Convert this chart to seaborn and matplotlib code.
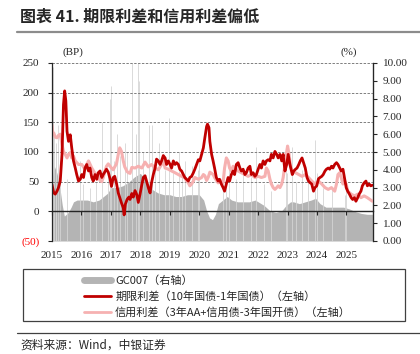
import numpy as np
import pandas as pd
import matplotlib
matplotlib.use("Agg")
import matplotlib.pyplot as plt
import matplotlib.ticker as mticker
from matplotlib.lines import Line2D
from matplotlib.patches import Rectangle
import seaborn as sns

sns.set_style("ticks")
plt.rcParams['font.family'] = ['Liberation Serif', 'Noto Sans CJK SC', 'DejaVu Sans']
plt.rcParams['axes.unicode_minus'] = False

# term spread: 10Y CGB - 1Y CGB (bp)
term_t = [2015.00, 2015.06, 2015.11, 2015.17, 2015.22, 2015.28, 2015.34, 2015.39, 2015.43, 2015.47,
          2015.51, 2015.56, 2015.62, 2015.67, 2015.73, 2015.79, 2015.84, 2015.90, 2015.96, 2016.01,
          2016.07, 2016.12, 2016.18, 2016.24, 2016.29, 2016.35, 2016.40, 2016.46, 2016.52, 2016.57,
          2016.63, 2016.69, 2016.74, 2016.80, 2016.85, 2016.91, 2016.97, 2017.02, 2017.08, 2017.13,
          2017.19, 2017.25, 2017.30, 2017.36, 2017.42, 2017.45, 2017.49, 2017.55, 2017.61, 2017.65,
          2017.71, 2017.76, 2017.82, 2017.88, 2017.93, 2017.99, 2018.05, 2018.10, 2018.16, 2018.21,
          2018.27, 2018.33, 2018.38, 2018.44, 2018.50, 2018.55, 2018.61, 2018.67, 2018.72, 2018.78,
          2018.84, 2018.89, 2018.95, 2019.01, 2019.06, 2019.12, 2019.18, 2019.23, 2019.29, 2019.34,
          2019.40, 2019.46, 2019.51, 2019.57, 2019.63, 2019.68, 2019.74, 2019.80, 2019.85, 2019.91,
          2019.97, 2020.02, 2020.08, 2020.14, 2020.19, 2020.25, 2020.28, 2020.33, 2020.36, 2020.42,
          2020.47, 2020.52, 2020.58, 2020.64, 2020.69, 2020.75, 2020.81, 2020.86, 2020.92, 2020.98,
          2021.03, 2021.09, 2021.15, 2021.20, 2021.26, 2021.32, 2021.38, 2021.43, 2021.49, 2021.55,
          2021.60, 2021.66, 2021.72, 2021.77, 2021.83, 2021.89, 2021.94, 2022.00, 2022.06, 2022.11,
          2022.17, 2022.23, 2022.28, 2022.34, 2022.40, 2022.45, 2022.51, 2022.57, 2022.63, 2022.68,
          2022.74, 2022.80, 2022.85, 2022.91, 2022.97, 2023.02, 2023.08, 2023.16, 2023.21, 2023.27,
          2023.32, 2023.38, 2023.43, 2023.49, 2023.54, 2023.60, 2023.66, 2023.71, 2023.77, 2023.82,
          2023.88, 2023.93, 2023.99, 2024.05, 2024.10, 2024.16, 2024.21, 2024.27, 2024.32, 2024.38,
          2024.43, 2024.49, 2024.54, 2024.60, 2024.66, 2024.71, 2024.77, 2024.82, 2024.88, 2024.93,
          2024.99, 2025.04, 2025.10, 2025.16, 2025.21, 2025.27, 2025.32, 2025.38, 2025.43, 2025.49,
          2025.54, 2025.60, 2025.66, 2025.71, 2025.77, 2025.82, 2025.88]
term_v = [45, 31, 29, 34, 40, 51, 96, 180, 203, 186,
          135, 118, 129, 107, 85, 73, 62, 51, 54, 62,
          57, 73, 79, 68, 73, 57, 51, 62, 54, 65,
          68, 57, 62, 67, 71, 66, 55, 42, 57, 59,
          47, 31, 23, 14, 6, -6, 12, 20, 24, 20,
          30, 24, 35, 28, 15, 29, 45, 57, 60, 51,
          40, 31, 48, 62, 73, 88, 85, 79, 85, 94,
          90, 79, 85, 79, 73, 85, 79, 82, 79, 71,
          68, 62, 57, 54, 51, 57, 59, 65, 71, 79,
          87, 85, 96, 107, 124, 143, 147, 141, 118, 96,
          85, 73, 57, 51, 54, 46, 40, 34, 46, 57,
          51, 62, 68, 62, 79, 82, 73, 68, 71, 62,
          65, 73, 76, 62, 65, 59, 62, 71, 79, 73,
          85, 79, 85, 87, 85, 96, 90, 101, 96, 90,
          96, 85, 96, 68, 79, 96, 79, 62, 68, 71,
          73, 79, 85, 90, 82, 73, 57, 51, 48, 46,
          34, 40, 43, 55, 57, 59, 62, 68, 71, 73,
          71, 76, 73, 79, 82, 79, 73, 68, 71, 57,
          40, 34, 29, 23, 20, 23, 17, 23, 29, 34,
          43, 48, 51, 43, 46, 43, 44]

# credit spread: 3Y AA+ credit - 3Y CDB (bp)
credit_t = [2015.00, 2015.03, 2015.06, 2015.11, 2015.17, 2015.22, 2015.28, 2015.34, 2015.39, 2015.45,
            2015.51, 2015.56, 2015.62, 2015.67, 2015.73, 2015.79, 2015.90, 2016.01, 2016.12, 2016.18,
            2016.24, 2016.35, 2016.46, 2016.57, 2016.63, 2016.69, 2016.74, 2016.80, 2016.85, 2016.91,
            2016.97, 2017.02, 2017.08, 2017.13, 2017.19, 2017.25, 2017.30, 2017.36, 2017.42, 2017.47,
            2017.55, 2017.60, 2017.65, 2017.71, 2017.82, 2017.93, 2018.05, 2018.16, 2018.27, 2018.38,
            2018.50, 2018.61, 2018.72, 2018.78, 2018.84, 2018.95, 2019.06, 2019.18, 2019.29, 2019.40,
            2019.51, 2019.57, 2019.63, 2019.68, 2019.74, 2019.80, 2019.85, 2019.97, 2020.08, 2020.14,
            2020.19, 2020.25, 2020.31, 2020.36, 2020.42, 2020.47, 2020.52, 2020.64, 2020.75, 2020.81,
            2020.86, 2020.92, 2020.98, 2021.03, 2021.09, 2021.15, 2021.20, 2021.32, 2021.43, 2021.55,
            2021.66, 2021.77, 2021.89, 2022.00, 2022.11, 2022.23, 2022.28, 2022.34, 2022.40, 2022.45,
            2022.51, 2022.57, 2022.63, 2022.68, 2022.74, 2022.80, 2022.85, 2022.91, 2022.97, 2023.00,
            2023.05, 2023.10, 2023.16, 2023.27, 2023.38, 2023.49, 2023.60, 2023.71, 2023.82, 2023.93,
            2024.05, 2024.16, 2024.27, 2024.38, 2024.49, 2024.60, 2024.66, 2024.71, 2024.77, 2024.82,
            2024.88, 2024.93, 2024.99, 2025.04, 2025.16, 2025.27, 2025.38, 2025.49, 2025.60, 2025.71,
            2025.88]
credit_v = [145, 130, 132, 125, 124, 128, 130, 113, 101, 96,
            90, 96, 99, 90, 93, 85, 79, 79, 71, 79,
            85, 73, 64, 60, 52, 50, 57, 68, 76, 80,
            76, 73, 70, 75, 80, 96, 107, 101, 85, 75,
            67, 65, 64, 74, 73, 76, 73, 83, 75, 79,
            73, 70, 79, 86, 73, 71, 68, 65, 62, 59,
            57, 51, 48, 43, 46, 51, 57, 54, 57, 62,
            60, 52, 58, 66, 64, 62, 57, 48, 51, 48,
            73, 90, 85, 73, 68, 76, 73, 68, 65, 62,
            59, 62, 57, 59, 57, 59, 73, 68, 54, 46,
            40, 37, 40, 43, 40, 46, 57, 79, 101, 110,
            96, 76, 68, 65, 62, 59, 62, 57, 51, 46,
            51, 46, 40, 37, 40, 34, 46, 62, 65, 57,
            46, 51, 46, 34, 29, 26, 29, 23, 26, 23,
            17]

# GC007 (%), dense body of the area
gc007_t = [2015.00, 2015.08, 2015.17, 2015.25, 2015.35, 2015.42, 2015.55, 2015.65, 2015.73, 2015.85,
           2016.00, 2016.20, 2016.40, 2016.60, 2016.75, 2016.90, 2017.00, 2017.20, 2017.40, 2017.60,
           2017.80, 2018.00, 2018.20, 2018.40, 2018.60, 2018.80, 2019.00, 2019.20, 2019.40, 2019.60,
           2019.80, 2020.00, 2020.15, 2020.25, 2020.35, 2020.45, 2020.55, 2020.65, 2020.80, 2020.95,
           2021.10, 2021.30, 2021.50, 2021.70, 2021.90, 2022.00, 2022.20, 2022.40, 2022.60, 2022.80,
           2022.95, 2023.10, 2023.20, 2023.40, 2023.60, 2023.80, 2023.95, 2024.10, 2024.30, 2024.50,
           2024.70, 2024.90, 2025.10, 2025.30, 2025.50, 2025.70, 2025.88]
gc007_v = [3.5, 4.2, 3.8, 3.2, 2.0, 1.4, 1.6, 1.9, 2.2, 2.3,
           2.3, 2.3, 2.2, 2.3, 2.5, 2.7, 3.0, 3.0, 3.1, 3.3,
           3.6, 3.8, 3.4, 2.9, 2.7, 2.6, 2.6, 2.5, 2.5, 2.6,
           2.6, 2.6, 2.3, 1.7, 1.3, 1.2, 1.5, 2.1, 2.3, 2.5,
           2.3, 2.2, 2.2, 2.2, 2.3, 2.2, 2.0, 1.7, 1.6, 1.7,
           2.0, 2.2, 2.2, 2.1, 2.2, 2.3, 2.4, 2.1, 1.9, 1.9,
           1.9, 1.9, 1.8, 1.65, 1.55, 1.5, 1.5]

# GC007 daily spikes (%)
spike_t = [2015.03, 2015.07, 2015.12, 2015.15, 2015.20, 2015.27, 2015.50, 2015.95, 2016.05, 2016.30,
           2016.50, 2016.71, 2016.90, 2016.98, 2017.02, 2017.10, 2017.21, 2017.30, 2017.47, 2017.55,
           2017.72, 2017.85, 2017.92, 2017.97, 2018.10, 2018.28, 2018.40, 2018.50, 2018.65, 2018.85,
           2018.96, 2019.10, 2019.30, 2019.40, 2019.50, 2019.75, 2019.95, 2020.00, 2020.80, 2020.90,
           2021.00, 2021.25, 2021.50, 2021.75, 2021.94, 2022.20, 2022.45, 2022.93, 2022.98, 2023.15,
           2023.30, 2023.50, 2023.70, 2023.93, 2024.00, 2024.20, 2024.50, 2024.95, 2025.00]
spike_v = [9.8, 6.0, 5.5, 5.0, 6.5, 4.5, 3.5, 4.5, 3.2, 3.0,
           3.3, 6.7, 3.8, 8.0, 8.7, 4.5, 6.0, 4.8, 5.5, 5.0,
           10.0, 6.0, 10.0, 9.0, 5.0, 6.5, 6.5, 4.5, 5.5, 4.0,
           6.9, 3.8, 5.0, 3.6, 4.5, 4.2, 4.0, 4.5, 3.8, 3.5,
           4.2, 3.5, 3.8, 3.6, 5.3, 3.2, 2.8, 5.4, 3.8, 5.3,
           3.3, 4.0, 3.5, 5.7, 3.8, 3.0, 3.0, 2.6, 2.8]

years = list(range(2015, 2026))
RED = '#C00000'
PINK = '#F6B1B1'
GRAY = '#B4B4B4'

fig = plt.figure(figsize=(4.2, 3.54), dpi=100)
ax = fig.add_axes([52 / 420, 1 - 241 / 354, 321 / 420, 178 / 354])
ax2 = ax.twinx()
ax.set_zorder(ax2.get_zorder() + 1)
ax.patch.set_visible(False)

# GC007 area on right axis
ax2.fill_between(gc007_t, 0, gc007_v, color=GRAY, lw=0)
ax2.vlines(spike_t, 0, spike_v, color='#D4D4D4', lw=0.6)
ax2.set_ylim(0, 10)
ax2.set_yticks(np.arange(0, 11, 1))
ax2.yaxis.set_major_formatter(mticker.FormatStrFormatter('%.2f'))
ax2.tick_params(axis='y', direction='out', length=3, pad=4, labelsize=8)

# spreads on left axis
sns.lineplot(x=credit_t, y=credit_v, ax=ax, color=PINK, lw=2.2, sort=False, estimator=None)
sns.lineplot(x=term_t, y=term_v, ax=ax, color=RED, lw=2.0, sort=False, estimator=None)

ymin, ymax = -50, 250
ax.set_ylim(ymin, ymax)
ax.set_xlim(2015, 2025.9)
ax.set_yticks(np.arange(-50, 251, 50))
ax.yaxis.set_major_formatter(mticker.FuncFormatter(
    lambda v, p: f"({-v:.0f})" if v < 0 else f"{v:.0f}"))
ax.tick_params(axis='y', direction='out', length=3, pad=6, labelsize=8)
ax.set_xticks(years)
ax.set_xticklabels([str(y) for y in years])
ax.tick_params(axis='x', length=0, pad=7, labelsize=8)
ax.set_xlabel('')
ax.set_ylabel('')
for lab in ax.get_yticklabels():
    if lab.get_text().startswith('('):
        lab.set_color('red')

for v in [-50, 50, 100, 150, 200, 250]:
    ax.axhline(v, color='#7F7F7F', lw=0.7, ls=(0, (2.5, 1.5)), zorder=0.5)

for sp in ['top', 'bottom']:
    ax.spines[sp].set_visible(False)
    ax2.spines[sp].set_visible(False)
ax.spines['left'].set_linewidth(0.9)
ax2.spines['right'].set_linewidth(0.9)
ax2.spines['left'].set_visible(False)

# zero line with year ticks
zero = ax.secondary_xaxis((0 - ymin) / (ymax - ymin))
zero.set_xticks(years)
zero.tick_params(axis='x', direction='out', length=3, labelbottom=False, labeltop=False)
for sp in zero.spines.values():
    sp.set_linewidth(1.0)

fig.text(73 / 420, 1 - 52 / 354, '(BP)', ha='center', va='center', fontsize=8)
fig.text(349 / 420, 1 - 52 / 354, '(%)', ha='center', va='center', fontsize=8)

# title and rules
fig.text(20 / 420, 1 - 17 / 354, '图表 41. 期限利差和信用利差偏低', ha='left', va='center',
         fontsize=11.5, fontweight='bold', family=['Noto Sans CJK SC', 'DejaVu Sans'])
fig.add_artist(Line2D([17 / 420, 1.0], [1 - 32 / 354, 1 - 32 / 354], color='#8C8C8C', lw=1.6))
fig.add_artist(Line2D([17 / 420, 1.0], [1 - 333 / 354, 1 - 333 / 354], color='#404040', lw=0.9))
fig.text(20 / 420, 1 - 345 / 354, '资料来源：Wind，中银证券', ha='left', va='center',
         fontsize=8.5, style='italic', family=['Noto Sans CJK SC', 'DejaVu Sans'])

# legend
fig.add_artist(Rectangle((23 / 420, 1 - 321 / 354), 382 / 420, 52 / 354, transform=fig.transFigure,
                         fill=False, edgecolor='#404040', lw=0.9))
handles = [Line2D([], [], color=GRAY, lw=5),
           Line2D([], [], color=RED, lw=2),
           Line2D([], [], color=PINK, lw=2)]
labels = ['GC007（右轴）', '期限利差（10年国债-1年国债）（左轴）', '信用利差（3年AA+信用债-3年国开债）（左轴）']
fig.legend(handles, labels, loc='upper left', bbox_to_anchor=(74 / 420, 1 - 265 / 354),
           frameon=False, handlelength=2.4, handletextpad=0.4, labelspacing=0.5,
           borderpad=0.4, prop={'family': ['Noto Sans CJK SC', 'DejaVu Sans'], 'size': 8})

fig.savefig('out.png', dpi=100)
